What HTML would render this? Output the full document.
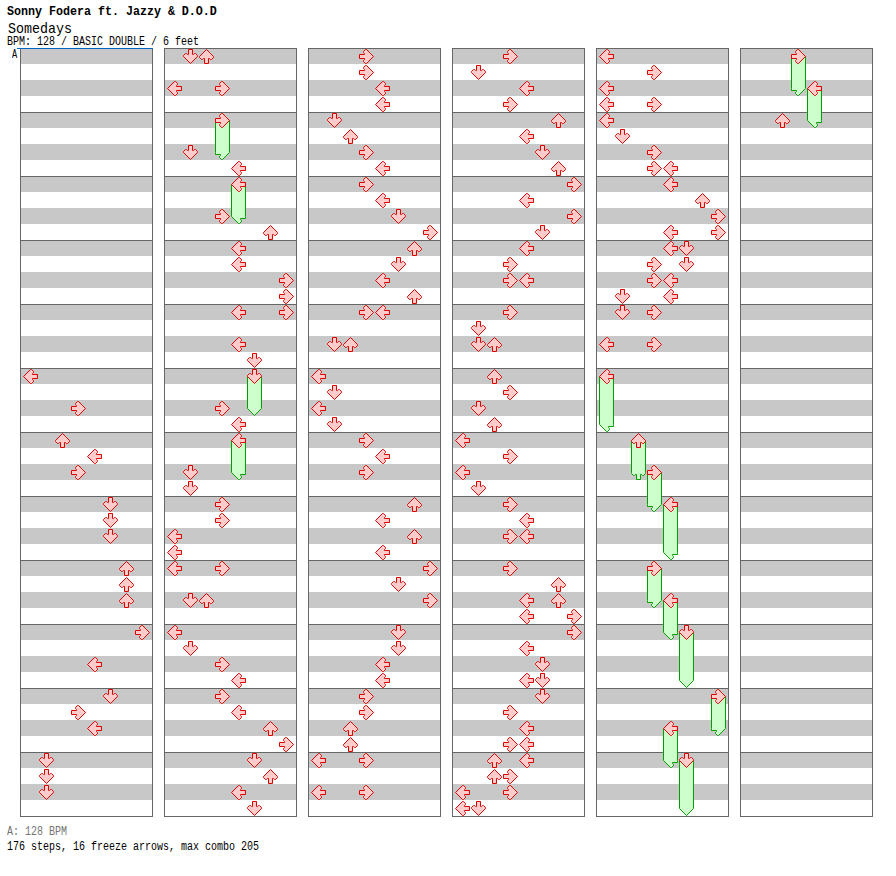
<!DOCTYPE html>
<html><head><meta charset="utf-8">
<style>
html,body{margin:0;padding:0;background:#fff;}
body{width:896px;height:876px;position:relative;overflow:hidden;font-family:"Liberation Mono",monospace;color:#000;}
.t{position:absolute;white-space:pre;line-height:1;}
#title{left:7px;top:6px;font-size:11.67px;font-weight:bold;transform:scaleY(1.143);transform-origin:0 0;}
#song{left:8px;top:22px;font-size:13.33px;transform:scaleY(1.11);transform-origin:0 0;}
#info{left:7px;top:36.75px;font-size:10px;transform:scaleY(1.2);transform-origin:0 0;}
#lab{left:12px;top:49px;font-size:12px;transform:scaleX(.72);transform-origin:0 0;}
#bpm{left:7px;top:826.75px;font-size:10px;color:#747474;transform:scaleY(1.2);transform-origin:0 0;}
#steps{left:7px;top:841.75px;font-size:10px;transform:scaleY(1.2);transform-origin:0 0;}
</style></head><body>
<svg width="896" height="876" viewBox="0 0 896 876" style="position:absolute;left:0;top:0"><defs><polygon id="a0" points="7,-2 7,2 2,2 2,3 3,4 3,5 1,7 0,7 -7,0 0,-7 1,-7 3,-5 3,-4 2,-3 2,-2"/><polygon id="a1" points="-2,-7 2,-7 2,-2 3,-2 4,-3 5,-3 7,-1 7,0 0,7 -7,0 -7,-1 -5,-3 -4,-3 -3,-2 -2,-2"/><polygon id="a2" points="-2,7 2,7 2,2 3,2 4,3 5,3 7,1 7,0 0,-7 -7,0 -7,1 -5,3 -4,3 -3,2 -2,2"/><polygon id="a3" points="-7,2 -7,-2 -2,-2 -2,-3 -3,-4 -3,-5 -1,-7 0,-7 7,0 0,7 -1,7 -3,5 -3,4 -2,3 -2,2"/></defs><g fill="#c8c8c8"><rect x="21" y="48" width="131" height="16"/><rect x="21" y="80" width="131" height="16"/><rect x="21" y="112" width="131" height="16"/><rect x="21" y="144" width="131" height="16"/><rect x="21" y="176" width="131" height="16"/><rect x="21" y="208" width="131" height="16"/><rect x="21" y="240" width="131" height="16"/><rect x="21" y="272" width="131" height="16"/><rect x="21" y="304" width="131" height="16"/><rect x="21" y="336" width="131" height="16"/><rect x="21" y="368" width="131" height="16"/><rect x="21" y="400" width="131" height="16"/><rect x="21" y="432" width="131" height="16"/><rect x="21" y="464" width="131" height="16"/><rect x="21" y="496" width="131" height="16"/><rect x="21" y="528" width="131" height="16"/><rect x="21" y="560" width="131" height="16"/><rect x="21" y="592" width="131" height="16"/><rect x="21" y="624" width="131" height="16"/><rect x="21" y="656" width="131" height="16"/><rect x="21" y="688" width="131" height="16"/><rect x="21" y="720" width="131" height="16"/><rect x="21" y="752" width="131" height="16"/><rect x="21" y="784" width="131" height="16"/></g><path d="M20 48.5 H153 M20 112.5 H153 M20 176.5 H153 M20 240.5 H153 M20 304.5 H153 M20 368.5 H153 M20 432.5 H153 M20 496.5 H153 M20 560.5 H153 M20 624.5 H153 M20 688.5 H153 M20 752.5 H153 M20 816.5 H153 M20.5 48 V817 M152.5 48 V817" stroke="#666666" stroke-width="1" fill="none"/><g fill="#c8c8c8"><rect x="165" y="48" width="131" height="16"/><rect x="165" y="80" width="131" height="16"/><rect x="165" y="112" width="131" height="16"/><rect x="165" y="144" width="131" height="16"/><rect x="165" y="176" width="131" height="16"/><rect x="165" y="208" width="131" height="16"/><rect x="165" y="240" width="131" height="16"/><rect x="165" y="272" width="131" height="16"/><rect x="165" y="304" width="131" height="16"/><rect x="165" y="336" width="131" height="16"/><rect x="165" y="368" width="131" height="16"/><rect x="165" y="400" width="131" height="16"/><rect x="165" y="432" width="131" height="16"/><rect x="165" y="464" width="131" height="16"/><rect x="165" y="496" width="131" height="16"/><rect x="165" y="528" width="131" height="16"/><rect x="165" y="560" width="131" height="16"/><rect x="165" y="592" width="131" height="16"/><rect x="165" y="624" width="131" height="16"/><rect x="165" y="656" width="131" height="16"/><rect x="165" y="688" width="131" height="16"/><rect x="165" y="720" width="131" height="16"/><rect x="165" y="752" width="131" height="16"/><rect x="165" y="784" width="131" height="16"/></g><path d="M164 48.5 H297 M164 112.5 H297 M164 176.5 H297 M164 240.5 H297 M164 304.5 H297 M164 368.5 H297 M164 432.5 H297 M164 496.5 H297 M164 560.5 H297 M164 624.5 H297 M164 688.5 H297 M164 752.5 H297 M164 816.5 H297 M164.5 48 V817 M296.5 48 V817" stroke="#666666" stroke-width="1" fill="none"/><g fill="#c8c8c8"><rect x="309" y="48" width="131" height="16"/><rect x="309" y="80" width="131" height="16"/><rect x="309" y="112" width="131" height="16"/><rect x="309" y="144" width="131" height="16"/><rect x="309" y="176" width="131" height="16"/><rect x="309" y="208" width="131" height="16"/><rect x="309" y="240" width="131" height="16"/><rect x="309" y="272" width="131" height="16"/><rect x="309" y="304" width="131" height="16"/><rect x="309" y="336" width="131" height="16"/><rect x="309" y="368" width="131" height="16"/><rect x="309" y="400" width="131" height="16"/><rect x="309" y="432" width="131" height="16"/><rect x="309" y="464" width="131" height="16"/><rect x="309" y="496" width="131" height="16"/><rect x="309" y="528" width="131" height="16"/><rect x="309" y="560" width="131" height="16"/><rect x="309" y="592" width="131" height="16"/><rect x="309" y="624" width="131" height="16"/><rect x="309" y="656" width="131" height="16"/><rect x="309" y="688" width="131" height="16"/><rect x="309" y="720" width="131" height="16"/><rect x="309" y="752" width="131" height="16"/><rect x="309" y="784" width="131" height="16"/></g><path d="M308 48.5 H441 M308 112.5 H441 M308 176.5 H441 M308 240.5 H441 M308 304.5 H441 M308 368.5 H441 M308 432.5 H441 M308 496.5 H441 M308 560.5 H441 M308 624.5 H441 M308 688.5 H441 M308 752.5 H441 M308 816.5 H441 M308.5 48 V817 M440.5 48 V817" stroke="#666666" stroke-width="1" fill="none"/><g fill="#c8c8c8"><rect x="453" y="48" width="131" height="16"/><rect x="453" y="80" width="131" height="16"/><rect x="453" y="112" width="131" height="16"/><rect x="453" y="144" width="131" height="16"/><rect x="453" y="176" width="131" height="16"/><rect x="453" y="208" width="131" height="16"/><rect x="453" y="240" width="131" height="16"/><rect x="453" y="272" width="131" height="16"/><rect x="453" y="304" width="131" height="16"/><rect x="453" y="336" width="131" height="16"/><rect x="453" y="368" width="131" height="16"/><rect x="453" y="400" width="131" height="16"/><rect x="453" y="432" width="131" height="16"/><rect x="453" y="464" width="131" height="16"/><rect x="453" y="496" width="131" height="16"/><rect x="453" y="528" width="131" height="16"/><rect x="453" y="560" width="131" height="16"/><rect x="453" y="592" width="131" height="16"/><rect x="453" y="624" width="131" height="16"/><rect x="453" y="656" width="131" height="16"/><rect x="453" y="688" width="131" height="16"/><rect x="453" y="720" width="131" height="16"/><rect x="453" y="752" width="131" height="16"/><rect x="453" y="784" width="131" height="16"/></g><path d="M452 48.5 H585 M452 112.5 H585 M452 176.5 H585 M452 240.5 H585 M452 304.5 H585 M452 368.5 H585 M452 432.5 H585 M452 496.5 H585 M452 560.5 H585 M452 624.5 H585 M452 688.5 H585 M452 752.5 H585 M452 816.5 H585 M452.5 48 V817 M584.5 48 V817" stroke="#666666" stroke-width="1" fill="none"/><g fill="#c8c8c8"><rect x="597" y="48" width="131" height="16"/><rect x="597" y="80" width="131" height="16"/><rect x="597" y="112" width="131" height="16"/><rect x="597" y="144" width="131" height="16"/><rect x="597" y="176" width="131" height="16"/><rect x="597" y="208" width="131" height="16"/><rect x="597" y="240" width="131" height="16"/><rect x="597" y="272" width="131" height="16"/><rect x="597" y="304" width="131" height="16"/><rect x="597" y="336" width="131" height="16"/><rect x="597" y="368" width="131" height="16"/><rect x="597" y="400" width="131" height="16"/><rect x="597" y="432" width="131" height="16"/><rect x="597" y="464" width="131" height="16"/><rect x="597" y="496" width="131" height="16"/><rect x="597" y="528" width="131" height="16"/><rect x="597" y="560" width="131" height="16"/><rect x="597" y="592" width="131" height="16"/><rect x="597" y="624" width="131" height="16"/><rect x="597" y="656" width="131" height="16"/><rect x="597" y="688" width="131" height="16"/><rect x="597" y="720" width="131" height="16"/><rect x="597" y="752" width="131" height="16"/><rect x="597" y="784" width="131" height="16"/></g><path d="M596 48.5 H729 M596 112.5 H729 M596 176.5 H729 M596 240.5 H729 M596 304.5 H729 M596 368.5 H729 M596 432.5 H729 M596 496.5 H729 M596 560.5 H729 M596 624.5 H729 M596 688.5 H729 M596 752.5 H729 M596 816.5 H729 M596.5 48 V817 M728.5 48 V817" stroke="#666666" stroke-width="1" fill="none"/><g fill="#c8c8c8"><rect x="741" y="48" width="131" height="16"/><rect x="741" y="80" width="131" height="16"/><rect x="741" y="112" width="131" height="16"/><rect x="741" y="144" width="131" height="16"/><rect x="741" y="176" width="131" height="16"/><rect x="741" y="208" width="131" height="16"/><rect x="741" y="240" width="131" height="16"/><rect x="741" y="272" width="131" height="16"/><rect x="741" y="304" width="131" height="16"/><rect x="741" y="336" width="131" height="16"/><rect x="741" y="368" width="131" height="16"/><rect x="741" y="400" width="131" height="16"/><rect x="741" y="432" width="131" height="16"/><rect x="741" y="464" width="131" height="16"/><rect x="741" y="496" width="131" height="16"/><rect x="741" y="528" width="131" height="16"/><rect x="741" y="560" width="131" height="16"/><rect x="741" y="592" width="131" height="16"/><rect x="741" y="624" width="131" height="16"/><rect x="741" y="656" width="131" height="16"/><rect x="741" y="688" width="131" height="16"/><rect x="741" y="720" width="131" height="16"/><rect x="741" y="752" width="131" height="16"/><rect x="741" y="784" width="131" height="16"/></g><path d="M740 48.5 H873 M740 112.5 H873 M740 176.5 H873 M740 240.5 H873 M740 304.5 H873 M740 368.5 H873 M740 432.5 H873 M740 496.5 H873 M740 560.5 H873 M740 624.5 H873 M740 688.5 H873 M740 752.5 H873 M740 816.5 H873 M740.5 48 V817 M872.5 48 V817" stroke="#666666" stroke-width="1" fill="none"/><rect x="17" y="48" width="136" height="1" fill="#0066cc"/><g fill="#ccffcc" stroke="#00a000" stroke-width="1" stroke-linejoin="miter"><polygon transform="translate(222.5 120.5)" points="-7,0 7,0 7,32 0,39 -1,39 -3,37 -3,36 -2,35 -2,34 -7,34 -7,32"/><polygon transform="translate(238.5 184.5)" points="-7,0 7,0 7,32 7,34 2,34 2,35 3,36 3,37 1,39 0,39 -7,32"/><polygon transform="translate(254.5 376.5)" points="-7,0 7,0 7,32 0,39 -7,32"/><polygon transform="translate(238.5 440.5)" points="-7,0 7,0 7,32 7,34 2,34 2,35 3,36 3,37 1,39 0,39 -7,32"/><polygon transform="translate(606.5 376.5)" points="-7,0 7,0 7,48 7,50 2,50 2,51 3,52 3,53 1,55 0,55 -7,48"/><polygon transform="translate(638.5 440.5)" points="-7,0 7,0 7,32 7,33 5,35 4,35 3,34 2,34 2,39 -2,39 -2,34 -3,34 -4,35 -5,35 -7,33 -7,32"/><polygon transform="translate(654.5 472.5)" points="-7,0 7,0 7,32 0,39 -1,39 -3,37 -3,36 -2,35 -2,34 -7,34 -7,32"/><polygon transform="translate(670.5 504.5)" points="-7,0 7,0 7,48 7,50 2,50 2,51 3,52 3,53 1,55 0,55 -7,48"/><polygon transform="translate(654.5 568.5)" points="-7,0 7,0 7,32 0,39 -1,39 -3,37 -3,36 -2,35 -2,34 -7,34 -7,32"/><polygon transform="translate(670.5 600.5)" points="-7,0 7,0 7,32 7,34 2,34 2,35 3,36 3,37 1,39 0,39 -7,32"/><polygon transform="translate(686.5 632.5)" points="-7,0 7,0 7,48 0,55 -7,48"/><polygon transform="translate(718.5 696.5)" points="-7,0 7,0 7,32 0,39 -1,39 -3,37 -3,36 -2,35 -2,34 -7,34 -7,32"/><polygon transform="translate(670.5 728.5)" points="-7,0 7,0 7,32 7,34 2,34 2,35 3,36 3,37 1,39 0,39 -7,32"/><polygon transform="translate(686.5 760.5)" points="-7,0 7,0 7,48 0,55 -7,48"/><polygon transform="translate(798.5 56.5)" points="-7,0 7,0 7,32 0,39 -1,39 -3,37 -3,36 -2,35 -2,34 -7,34 -7,32"/><polygon transform="translate(814.5 88.5)" points="-7,0 7,0 7,32 7,34 2,34 2,35 3,36 3,37 1,39 0,39 -7,32"/></g><g fill="#ffcccc" stroke="#dd0000" stroke-width="1" stroke-linejoin="miter"><use href="#a0" x="30.5" y="376.5"/><use href="#a3" x="78.5" y="408.5"/><use href="#a2" x="62.5" y="440.5"/><use href="#a0" x="94.5" y="456.5"/><use href="#a3" x="78.5" y="472.5"/><use href="#a1" x="110.5" y="504.5"/><use href="#a1" x="110.5" y="520.5"/><use href="#a1" x="110.5" y="536.5"/><use href="#a2" x="126.5" y="568.5"/><use href="#a2" x="126.5" y="584.5"/><use href="#a2" x="126.5" y="600.5"/><use href="#a3" x="142.5" y="632.5"/><use href="#a0" x="94.5" y="664.5"/><use href="#a1" x="110.5" y="696.5"/><use href="#a3" x="78.5" y="712.5"/><use href="#a0" x="94.5" y="728.5"/><use href="#a1" x="46.5" y="760.5"/><use href="#a1" x="46.5" y="776.5"/><use href="#a1" x="46.5" y="792.5"/><use href="#a1" x="190.5" y="56.5"/><use href="#a2" x="206.5" y="56.5"/><use href="#a0" x="174.5" y="88.5"/><use href="#a3" x="222.5" y="88.5"/><use href="#a3" x="222.5" y="120.5"/><use href="#a1" x="190.5" y="152.5"/><use href="#a0" x="238.5" y="168.5"/><use href="#a0" x="238.5" y="184.5"/><use href="#a3" x="222.5" y="216.5"/><use href="#a2" x="270.5" y="232.5"/><use href="#a0" x="238.5" y="248.5"/><use href="#a0" x="238.5" y="264.5"/><use href="#a3" x="286.5" y="280.5"/><use href="#a3" x="286.5" y="296.5"/><use href="#a0" x="238.5" y="312.5"/><use href="#a3" x="286.5" y="312.5"/><use href="#a0" x="238.5" y="344.5"/><use href="#a1" x="254.5" y="360.5"/><use href="#a1" x="254.5" y="376.5"/><use href="#a3" x="222.5" y="408.5"/><use href="#a0" x="238.5" y="424.5"/><use href="#a0" x="238.5" y="440.5"/><use href="#a1" x="190.5" y="472.5"/><use href="#a1" x="190.5" y="488.5"/><use href="#a3" x="222.5" y="504.5"/><use href="#a3" x="222.5" y="520.5"/><use href="#a0" x="174.5" y="536.5"/><use href="#a0" x="174.5" y="552.5"/><use href="#a0" x="174.5" y="568.5"/><use href="#a3" x="222.5" y="568.5"/><use href="#a1" x="190.5" y="600.5"/><use href="#a2" x="206.5" y="600.5"/><use href="#a0" x="174.5" y="632.5"/><use href="#a1" x="190.5" y="648.5"/><use href="#a3" x="222.5" y="664.5"/><use href="#a0" x="238.5" y="680.5"/><use href="#a3" x="222.5" y="696.5"/><use href="#a0" x="238.5" y="712.5"/><use href="#a2" x="270.5" y="728.5"/><use href="#a3" x="286.5" y="744.5"/><use href="#a1" x="254.5" y="760.5"/><use href="#a2" x="270.5" y="776.5"/><use href="#a0" x="238.5" y="792.5"/><use href="#a1" x="254.5" y="808.5"/><use href="#a3" x="366.5" y="56.5"/><use href="#a3" x="366.5" y="72.5"/><use href="#a0" x="382.5" y="88.5"/><use href="#a0" x="382.5" y="104.5"/><use href="#a1" x="334.5" y="120.5"/><use href="#a2" x="350.5" y="136.5"/><use href="#a3" x="366.5" y="152.5"/><use href="#a0" x="382.5" y="168.5"/><use href="#a3" x="366.5" y="184.5"/><use href="#a0" x="382.5" y="200.5"/><use href="#a1" x="398.5" y="216.5"/><use href="#a3" x="430.5" y="232.5"/><use href="#a2" x="414.5" y="248.5"/><use href="#a1" x="398.5" y="264.5"/><use href="#a0" x="382.5" y="280.5"/><use href="#a2" x="414.5" y="296.5"/><use href="#a3" x="366.5" y="312.5"/><use href="#a0" x="382.5" y="312.5"/><use href="#a1" x="334.5" y="344.5"/><use href="#a2" x="350.5" y="344.5"/><use href="#a0" x="318.5" y="376.5"/><use href="#a1" x="334.5" y="392.5"/><use href="#a0" x="318.5" y="408.5"/><use href="#a1" x="334.5" y="424.5"/><use href="#a3" x="366.5" y="440.5"/><use href="#a0" x="382.5" y="456.5"/><use href="#a3" x="366.5" y="472.5"/><use href="#a2" x="414.5" y="504.5"/><use href="#a0" x="382.5" y="520.5"/><use href="#a2" x="414.5" y="536.5"/><use href="#a0" x="382.5" y="552.5"/><use href="#a3" x="430.5" y="568.5"/><use href="#a1" x="398.5" y="584.5"/><use href="#a3" x="430.5" y="600.5"/><use href="#a1" x="398.5" y="632.5"/><use href="#a1" x="398.5" y="648.5"/><use href="#a0" x="382.5" y="664.5"/><use href="#a0" x="382.5" y="680.5"/><use href="#a3" x="366.5" y="696.5"/><use href="#a3" x="366.5" y="712.5"/><use href="#a2" x="350.5" y="728.5"/><use href="#a2" x="350.5" y="744.5"/><use href="#a0" x="318.5" y="760.5"/><use href="#a3" x="366.5" y="760.5"/><use href="#a0" x="318.5" y="792.5"/><use href="#a3" x="366.5" y="792.5"/><use href="#a3" x="510.5" y="56.5"/><use href="#a1" x="478.5" y="72.5"/><use href="#a0" x="526.5" y="88.5"/><use href="#a3" x="510.5" y="104.5"/><use href="#a2" x="558.5" y="120.5"/><use href="#a0" x="526.5" y="136.5"/><use href="#a1" x="542.5" y="152.5"/><use href="#a2" x="558.5" y="168.5"/><use href="#a3" x="574.5" y="184.5"/><use href="#a0" x="526.5" y="200.5"/><use href="#a3" x="574.5" y="216.5"/><use href="#a1" x="542.5" y="232.5"/><use href="#a0" x="526.5" y="248.5"/><use href="#a3" x="510.5" y="264.5"/><use href="#a3" x="510.5" y="280.5"/><use href="#a0" x="526.5" y="280.5"/><use href="#a3" x="510.5" y="312.5"/><use href="#a1" x="478.5" y="328.5"/><use href="#a1" x="478.5" y="344.5"/><use href="#a2" x="494.5" y="344.5"/><use href="#a2" x="494.5" y="376.5"/><use href="#a3" x="510.5" y="392.5"/><use href="#a1" x="478.5" y="408.5"/><use href="#a2" x="494.5" y="424.5"/><use href="#a0" x="462.5" y="440.5"/><use href="#a3" x="510.5" y="456.5"/><use href="#a0" x="462.5" y="472.5"/><use href="#a1" x="478.5" y="488.5"/><use href="#a3" x="510.5" y="504.5"/><use href="#a0" x="526.5" y="520.5"/><use href="#a3" x="510.5" y="536.5"/><use href="#a0" x="526.5" y="536.5"/><use href="#a3" x="510.5" y="568.5"/><use href="#a2" x="558.5" y="584.5"/><use href="#a0" x="526.5" y="600.5"/><use href="#a2" x="558.5" y="600.5"/><use href="#a0" x="526.5" y="616.5"/><use href="#a3" x="574.5" y="616.5"/><use href="#a3" x="574.5" y="632.5"/><use href="#a0" x="526.5" y="648.5"/><use href="#a1" x="542.5" y="664.5"/><use href="#a0" x="526.5" y="680.5"/><use href="#a1" x="542.5" y="680.5"/><use href="#a1" x="542.5" y="696.5"/><use href="#a3" x="510.5" y="712.5"/><use href="#a0" x="526.5" y="728.5"/><use href="#a3" x="510.5" y="744.5"/><use href="#a0" x="526.5" y="744.5"/><use href="#a2" x="494.5" y="760.5"/><use href="#a0" x="526.5" y="760.5"/><use href="#a2" x="494.5" y="776.5"/><use href="#a3" x="510.5" y="776.5"/><use href="#a0" x="462.5" y="792.5"/><use href="#a3" x="510.5" y="792.5"/><use href="#a0" x="462.5" y="808.5"/><use href="#a1" x="478.5" y="808.5"/><use href="#a0" x="606.5" y="56.5"/><use href="#a3" x="654.5" y="72.5"/><use href="#a0" x="606.5" y="88.5"/><use href="#a0" x="606.5" y="104.5"/><use href="#a3" x="654.5" y="104.5"/><use href="#a0" x="606.5" y="120.5"/><use href="#a1" x="622.5" y="136.5"/><use href="#a3" x="654.5" y="152.5"/><use href="#a3" x="654.5" y="168.5"/><use href="#a0" x="670.5" y="168.5"/><use href="#a0" x="670.5" y="184.5"/><use href="#a2" x="702.5" y="200.5"/><use href="#a3" x="718.5" y="216.5"/><use href="#a0" x="670.5" y="232.5"/><use href="#a3" x="718.5" y="232.5"/><use href="#a0" x="670.5" y="248.5"/><use href="#a1" x="686.5" y="248.5"/><use href="#a3" x="654.5" y="264.5"/><use href="#a1" x="686.5" y="264.5"/><use href="#a3" x="654.5" y="280.5"/><use href="#a0" x="670.5" y="280.5"/><use href="#a1" x="622.5" y="296.5"/><use href="#a0" x="670.5" y="296.5"/><use href="#a1" x="622.5" y="312.5"/><use href="#a3" x="654.5" y="312.5"/><use href="#a0" x="606.5" y="344.5"/><use href="#a3" x="654.5" y="344.5"/><use href="#a0" x="606.5" y="376.5"/><use href="#a2" x="638.5" y="440.5"/><use href="#a3" x="654.5" y="472.5"/><use href="#a0" x="670.5" y="504.5"/><use href="#a3" x="654.5" y="568.5"/><use href="#a0" x="670.5" y="600.5"/><use href="#a1" x="686.5" y="632.5"/><use href="#a3" x="718.5" y="696.5"/><use href="#a0" x="670.5" y="728.5"/><use href="#a1" x="686.5" y="760.5"/><use href="#a3" x="798.5" y="56.5"/><use href="#a0" x="814.5" y="88.5"/><use href="#a2" x="782.5" y="120.5"/></g></svg>
<div class="t" id="title">Sonny Fodera ft. Jazzy &amp; D.O.D</div>
<div class="t" id="song">Somedays</div>
<div class="t" id="info">BPM: 128 / BASIC DOUBLE / 6 feet</div>
<div class="t" id="lab">A</div>
<div class="t" id="bpm">A: 128 BPM</div>
<div class="t" id="steps">176 steps, 16 freeze arrows, max combo 205</div>
</body></html>
